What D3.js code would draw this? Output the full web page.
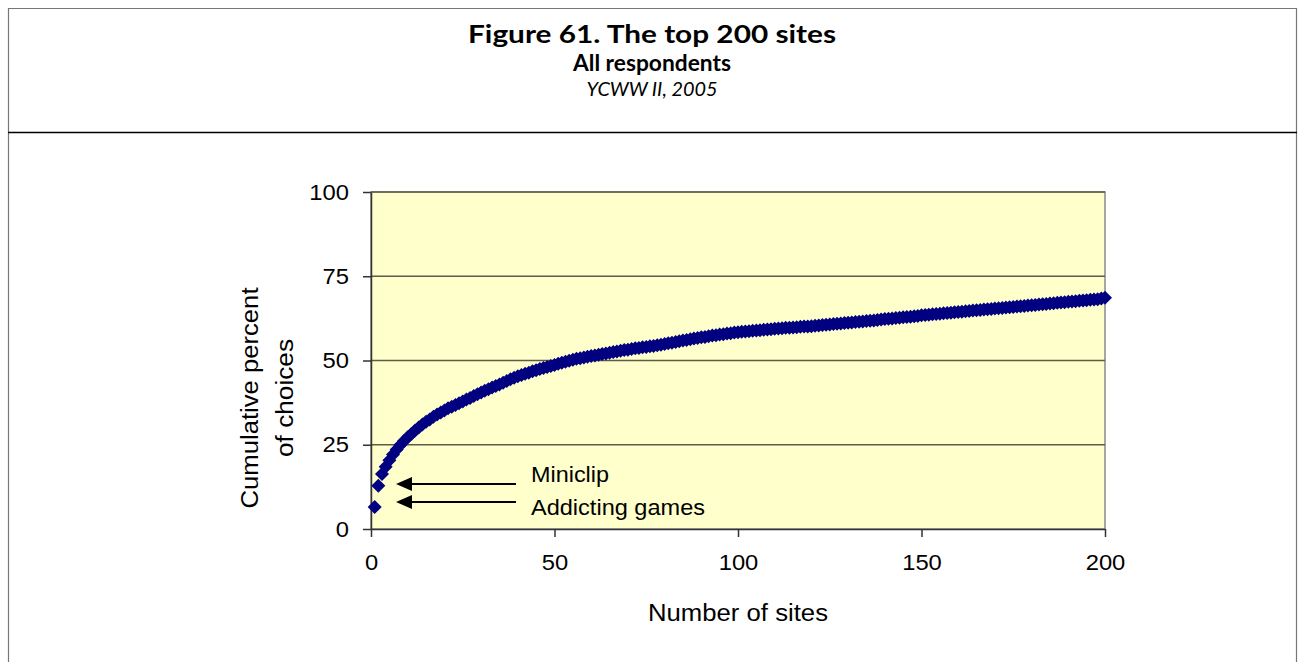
<!DOCTYPE html>
<html>
<head>
<meta charset="utf-8">
<script src="https://cdn.jsdelivr.net/npm/d3@7"></script>
<style>
  html, body { margin: 0; padding: 0; background: #fff; }
  svg { display: block; }
</style>
</head>
<body>
<svg id="chart" width="1304" height="662"></svg>
<script>
// ---------- data ----------
const titleLines = ["Figure 61. The top 200 sites", "All respondents", "YCWW II, 2005"];
const xLabel = "Number of sites";
const yLabelLines = ["Cumulative percent", "of choices"];
const xTicks = [0, 50, 100, 150, 200];
const yTicks = [0, 25, 50, 75, 100];
const annotations = [
  { label: "Miniclip", site: 2 },
  { label: "Addicting games", site: 1 }
];
// cumulative percent of choices for sites 1..200
const cumulativePercent = [
  6.5, 12.8, 16.3, 18.5, 20.4, 22.1, 23.6, 24.9, 26.1, 27.2,
  28.2, 29.2, 30.1, 31.0, 31.8, 32.5, 33.3, 34.0, 34.6, 35.2,
  35.8, 36.3, 36.8, 37.3, 37.8, 38.4, 38.9, 39.5, 40.0, 40.5,
  41.0, 41.5, 42.0, 42.4, 42.9, 43.4, 43.9, 44.4, 44.9, 45.3,
  45.7, 46.1, 46.4, 46.8, 47.1, 47.5, 47.8, 48.1, 48.4, 48.7,
  49.0, 49.3, 49.6, 49.9, 50.2, 50.5, 50.7, 50.9, 51.1, 51.3,
  51.5, 51.7, 51.9, 52.1, 52.3, 52.5, 52.7, 52.9, 53.1, 53.2,
  53.4, 53.6, 53.7, 53.9, 54.0, 54.2, 54.3, 54.5, 54.7, 54.9,
  55.1, 55.3, 55.5, 55.7, 55.9, 56.1, 56.3, 56.5, 56.7, 56.9,
  57.0, 57.2, 57.4, 57.5, 57.7, 57.8, 58.0, 58.1, 58.3, 58.4,
  58.5, 58.6, 58.7, 58.8, 58.9, 59.0, 59.1, 59.2, 59.3, 59.4,
  59.5, 59.6, 59.7, 59.7, 59.8, 59.9, 60.0, 60.1, 60.1, 60.2,
  60.3, 60.4, 60.5, 60.6, 60.7, 60.8, 60.9, 61.0, 61.1, 61.2,
  61.3, 61.4, 61.5, 61.6, 61.7, 61.8, 61.9, 62.0, 62.2, 62.3,
  62.4, 62.5, 62.6, 62.7, 62.8, 62.9, 63.0, 63.1, 63.2, 63.4,
  63.5, 63.6, 63.7, 63.8, 63.9, 64.0, 64.1, 64.2, 64.3, 64.4,
  64.5, 64.6, 64.7, 64.8, 64.9, 65.0, 65.1, 65.2, 65.3, 65.4,
  65.5, 65.6, 65.7, 65.8, 65.9, 66.0, 66.1, 66.2, 66.3, 66.4,
  66.5, 66.6, 66.7, 66.8, 66.9, 67.0, 67.1, 67.2, 67.3, 67.4,
  67.5, 67.6, 67.7, 67.8, 67.9, 68.0, 68.1, 68.2, 68.4, 68.6
];
const sites = cumulativePercent.map((v, i) => ({ site: i + 1, pct: v }));

// ---------- layout ----------
const svg = d3.select("#chart");
const plot = { left: 371, right: 1105, top: 192, bottom: 529 };
const x = d3.scaleLinear().domain([0, 200]).range([plot.left, plot.right]);
const y = d3.scaleLinear().domain([0, 100]).range([plot.bottom, plot.top]);
const axisFont = "'Liberation Sans', Arial, sans-serif";
const titleFont = "Lato, 'Open Sans', sans-serif";

// outer frame
svg.append("path")
  .attr("d", "M8.5,700 L8.5,8.5 L1296.5,8.5 L1296.5,700")
  .attr("fill", "none").attr("stroke", "#777").attr("stroke-width", 1.2);
svg.append("line")
  .attr("x1", 8).attr("x2", 1297).attr("y1", 132.5).attr("y2", 132.5)
  .attr("stroke", "#000").attr("stroke-width", 1.3);

// titles
const titleSpecs = [
  { y: 43, size: 24, weight: 700, style: "normal", len: 368 },
  { y: 71, size: 22, weight: 700, style: "normal", len: 158 },
  { y: 96, size: 20, weight: 400, style: "italic", len: 131 }
];
titleLines.forEach((t, i) => {
  const s = titleSpecs[i];
  svg.append("text")
    .attr("x", 652).attr("y", s.y)
    .attr("text-anchor", "middle")
    .attr("font-family", titleFont)
    .attr("font-size", s.size)
    .attr("font-weight", s.weight)
    .attr("font-style", s.style)
    .attr("textLength", s.len)
    .attr("lengthAdjust", "spacingAndGlyphs")
    .attr("fill", "#000")
    .text(t);
});

// plot background
svg.append("rect")
  .attr("x", plot.left).attr("y", plot.top)
  .attr("width", plot.right - plot.left).attr("height", plot.bottom - plot.top)
  .attr("fill", "#FFFFCC").attr("stroke", "#8a8a8a").attr("stroke-width", 1.5);

// gridlines
svg.append("g").selectAll("line")
  .data(yTicks.filter(d => d > 0))
  .join("line")
  .attr("x1", plot.left).attr("x2", plot.right)
  .attr("y1", d => y(d)).attr("y2", d => y(d))
  .attr("stroke", "#5c5c4a").attr("stroke-width", 1.4);

// axes
const yAxis = svg.append("g")
  .attr("transform", `translate(${plot.left},0)`)
  .call(d3.axisLeft(y).tickValues(yTicks).tickSize(8).tickPadding(14).tickSizeOuter(0));
const xAxis = svg.append("g")
  .attr("transform", `translate(0,${plot.bottom})`)
  .call(d3.axisBottom(x).tickValues(xTicks).tickSize(8).tickPadding(15).tickSizeOuter(0));
[yAxis, xAxis].forEach(g => {
  g.select(".domain").attr("stroke", "#333").attr("stroke-width", 1.5);
  g.selectAll(".tick line").attr("stroke", "#333").attr("stroke-width", 1.5);
  g.selectAll(".tick text")
    .attr("font-family", axisFont).attr("font-size", 22).attr("fill", "#000")
    .each(function () {
      const w = this.getComputedTextLength();
      d3.select(this).attr("textLength", w * 1.08).attr("lengthAdjust", "spacingAndGlyphs");
    });
});
xAxis.selectAll(".tick text").attr("dy", "0.8em");

// axis titles
svg.append("text")
  .attr("x", 738).attr("y", 621)
  .attr("text-anchor", "middle")
  .attr("font-family", axisFont).attr("font-size", 23)
  .attr("textLength", 180).attr("lengthAdjust", "spacingAndGlyphs")
  .text(xLabel);
const yTitleSpecs = [{ bx: 258, len: 221 }, { bx: 293, len: 118 }];
yLabelLines.forEach((t, i) => {
  svg.append("text")
    .attr("transform", `translate(${yTitleSpecs[i].bx},398) rotate(-90)`)
    .attr("text-anchor", "middle")
    .attr("font-family", axisFont).attr("font-size", 23)
    .attr("textLength", yTitleSpecs[i].len).attr("lengthAdjust", "spacingAndGlyphs")
    .text(t);
});

// markers
svg.append("g").selectAll("path")
  .data(sites)
  .join("path")
  .attr("transform", d => `translate(${x(d.site)},${y(d.pct)})`)
  .attr("d", "M0,-7L7,0L0,7L-7,0Z")
  .attr("fill", "#000080");

// annotations with arrows
const annY = [484, 502];
const annTextY = [482, 515];
const annLen = [78, 174];
annotations.forEach((a, i) => {
  svg.append("line")
    .attr("x1", 516).attr("x2", 400)
    .attr("y1", annY[i]).attr("y2", annY[i])
    .attr("stroke", "#000").attr("stroke-width", 2);
  svg.append("path")
    .attr("d", `M396,${annY[i]}L412,${annY[i] - 7}L412,${annY[i] + 7}Z`)
    .attr("fill", "#000");
  svg.append("text")
    .attr("x", 531).attr("y", annTextY[i])
    .attr("font-family", axisFont).attr("font-size", 22)
    .attr("textLength", annLen[i]).attr("lengthAdjust", "spacingAndGlyphs")
    .text(a.label);
});
</script>
</body>
</html>
